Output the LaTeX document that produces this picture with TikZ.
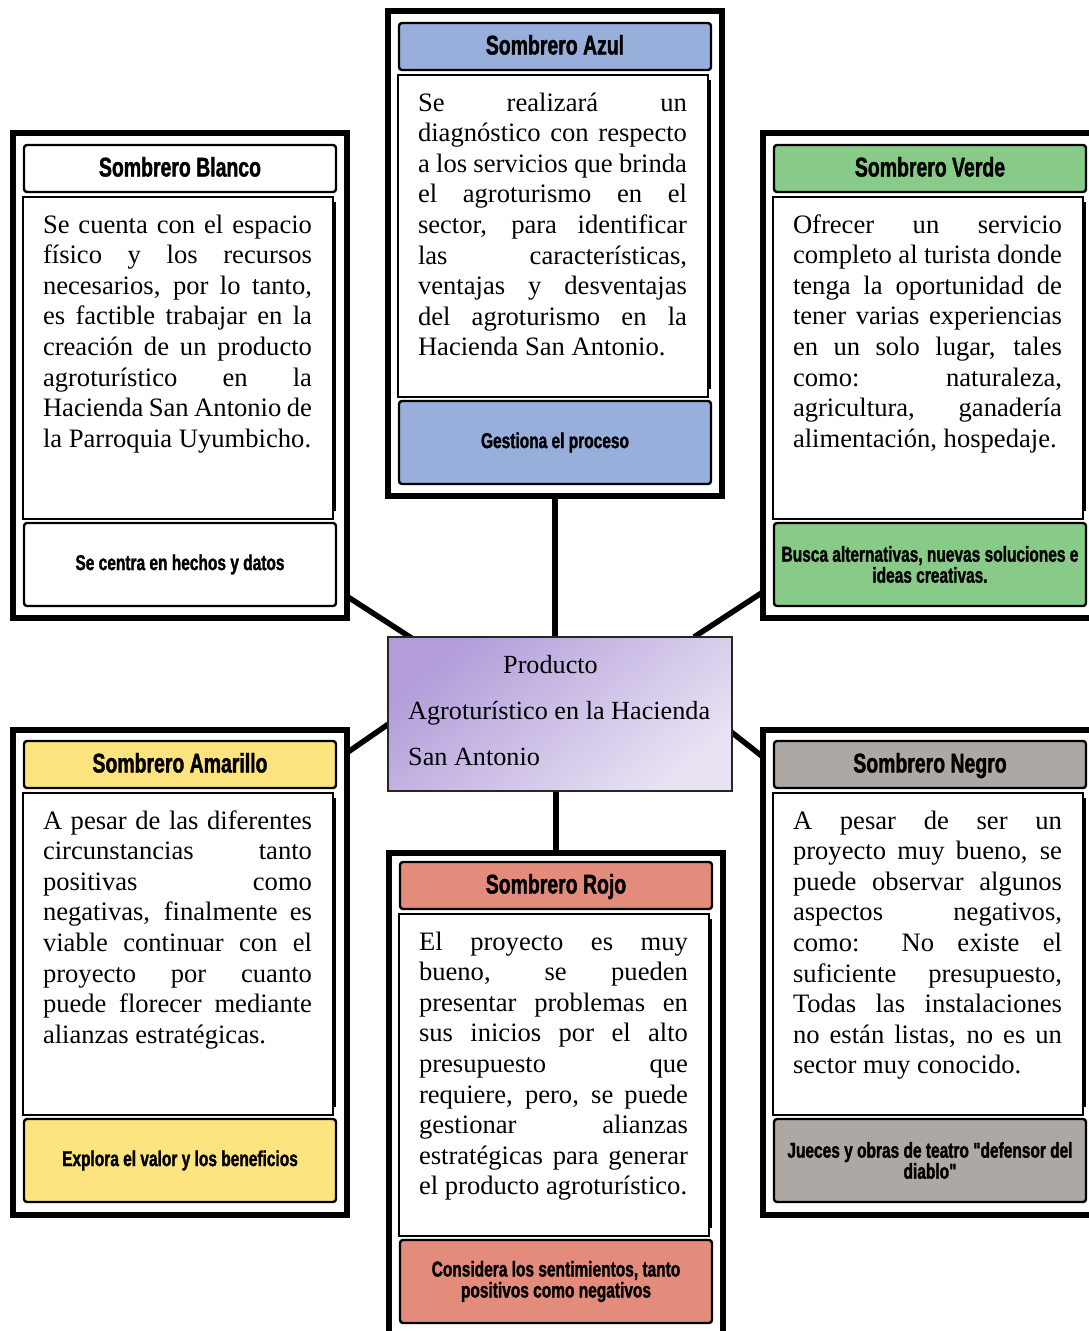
\documentclass[tikz,border=0pt]{standalone}
\usepackage{fontspec}
\setmainfont{Liberation Serif}
\newfontfamily\hatfont[FakeStretch=0.72,FakeBold=1.4]{Liberation Sans Bold}
\usetikzlibrary{calc,backgrounds}

\definecolor{hatwhite}{HTML}{FFFFFF}
\definecolor{hatblue}{HTML}{98AEDB}
\definecolor{hatgreen}{HTML}{88CA88}
\definecolor{hatyellow}{HTML}{FDE47F}
\definecolor{hatred}{HTML}{E38C7B}
\definecolor{hatblack}{HTML}{AEA8A4}
\definecolor{coredark}{HTML}{B29DD9}
\definecolor{corelight}{HTML}{E8E2F3}

% width of the text column inside a card
\newlength\cardtext
\setlength\cardtext{269pt}
% one fully justified line of a card text
\newcommand\jline[1]{\makebox[\cardtext][s]{#1}\\}
% first justified line, with a strut that fixes the top of the text block
\newcommand\fline[1]{\makebox[\cardtext][s]{\rule{0pt}{20pt}#1}\\}

% a hat card: #1 name, #2/#3 frame corner, #4 top of the inner boxes,
% #5 colour, #6 title, #7 body lines, #8 note at the foot
\newcommand\hatpanel[8]{%
  \node[frame] (#1) at (#2,#3) {};
  \node[titlebar, fill=#5] (#1-t) at (#2+11,#4+12) {};
  \node[titletext] (#1-tt) at (#1-t.center) {#6};
  \draw[line width=2.6pt] ($(#2+10,#4+64)+(312,5)$) -- ($(#2+10,#4+64)+(312,314)$);
  \node[bodybox] (#1-b) at (#2+10,#4+64) {};
  \node[bodytext] (#1-bt) at (#2+30,#4+80) {\spaceskip=0pt\xspaceskip=0pt #7};
  \node[notebar, fill=#5] (#1-n) at (#2+11,#4+390) {};
  \node[notetext] (#1-nt) at (#1-n.center) {#8};
}

\begin{document}
\begin{tikzpicture}[x=1pt,y=-1pt,
  frame/.style={draw, line width=6pt, minimum width=334pt, minimum height=485pt,
    inner sep=0pt, outer sep=0pt, anchor=north west},
  hatbar/.style={draw, line width=2.4pt, rounded corners=3pt, minimum width=312pt,
    inner sep=0pt, outer sep=0pt, anchor=north west},
  titlebar/.style={hatbar, minimum height=47pt},
  notebar/.style={hatbar, minimum height=83pt},
  bodybox/.style={draw, line width=1.2pt, fill=white, minimum width=310pt,
    minimum height=322pt, inner sep=0pt, outer sep=0pt, anchor=north west},
  bodytext/.style={anchor=north west, inner sep=0pt, outer sep=0pt, text width=269pt,
    align=left, font=\fontsize{26.6}{30.6}\selectfont},
  titletext/.style={font=\hatfont\fontsize{27}{27}\selectfont, inner sep=0pt,
    text height=16pt, text depth=0pt},
  notetext/.style={font=\hatfont\fontsize{21.5}{21}\selectfont, align=center, inner sep=0pt},
  link/.style={line width=5.5pt},
  core/.style={draw=black!85, line width=1.3pt, top color=coredark, bottom color=corelight,
    shading angle=40, minimum width=344pt, minimum height=154pt,
    inner sep=0pt, outer sep=0pt, anchor=north west},
  coretext/.style={anchor=north west, inner sep=0pt, align=left,
    font=\fontsize{26.2}{46}\selectfont}
]
\useasboundingbox (0,0) rectangle (1089,1331);
\clip (0,0) rectangle (1089,1331);
\begin{pgfonlayer}{background}
  \fill[white] (0,0) rectangle (1089,1331);
\end{pgfonlayer}

% central topic
\node[core] (core) at (388,637) {};
\node[coretext] (core-t) at (408,655) {\hspace*{95pt}Producto\\Agroturístico en la Hacienda\\San Antonio};

% the six hats
\hatpanel{blanco}{13}{133}{133}{hatwhite}{Sombrero Blanco}{%
  \fline{Se cuenta con el espacio}
  \jline{físico y los recursos}
  \jline{necesarios, por lo tanto,}
  \jline{es factible trabajar en la}
  \jline{creación de un producto}
  \jline{agroturístico en la}
  \jline{Hacienda San Antonio de}
  la Parroquia Uyumbicho.}{Se centra en hechos y datos}

\hatpanel{azul}{388}{11}{11}{hatblue}{Sombrero Azul}{%
  \fline{Se realizará un}
  \jline{diagnóstico con respecto}
  \jline{a los servicios que brinda}
  \jline{el agroturismo en el}
  \jline{sector, para identificar}
  \jline{las características,}
  \jline{ventajas y desventajas}
  \jline{del agroturismo en la}
  Hacienda San Antonio.}{Gestiona el proceso}

\hatpanel{verde}{763}{133}{133}{hatgreen}{Sombrero Verde}{%
  \fline{Ofrecer un servicio}
  \jline{completo al turista donde}
  \jline{tenga la oportunidad de}
  \jline{tener varias experiencias}
  \jline{en un solo lugar, tales}
  \jline{como: naturaleza,}
  \jline{agricultura, ganadería}
  alimentación, hospedaje.}{Busca alternativas, nuevas soluciones e\\ideas creativas.}

\hatpanel{amarillo}{13}{730}{729}{hatyellow}{Sombrero Amarillo}{%
  \fline{A pesar de las diferentes}
  \jline{circunstancias tanto}
  \jline{positivas como}
  \jline{negativas, finalmente es}
  \jline{viable continuar con el}
  \jline{proyecto por cuanto}
  \jline{puede florecer mediante}
  alianzas estratégicas.}{Explora el valor y los beneficios}

\hatpanel{rojo}{389}{853}{850}{hatred}{Sombrero Rojo}{%
  \fline{El proyecto es muy}
  \jline{bueno, se pueden}
  \jline{presentar problemas en}
  \jline{sus inicios por el alto}
  \jline{presupuesto que}
  \jline{requiere, pero, se puede}
  \jline{gestionar alianzas}
  \jline{estratégicas para generar}
  el producto agroturístico.}{Considera los sentimientos, tanto\\positivos como negativos}

\hatpanel{negro}{763}{730}{729}{hatblack}{Sombrero Negro}{%
  \fline{A pesar de ser un}
  \jline{proyecto muy bueno, se}
  \jline{puede observar algunos}
  \jline{aspectos negativos,}
  \jline{como: No existe el}
  \jline{suficiente presupuesto,}
  \jline{Todas las instalaciones}
  \jline{no están listas, no es un}
  sector muy conocido.}{Jueces y obras de teatro "defensor del\\diablo"}

% connectors from the central topic to each hat
\coordinate (blanco-j) at (348,597);
\coordinate (core-nw) at (413,639);
\coordinate (verde-j) at (763,592);
\coordinate (core-ne) at (694,637);
\coordinate (amarillo-j) at (348,752);
\coordinate (core-w) at (390,723);
\coordinate (negro-j) at (763,757);
\coordinate (core-e) at (730,731);
\begin{pgfonlayer}{background}
  \draw[link] (azul.south) -- (azul.south |- core.north);
  \draw[link] (rojo.north) -- (rojo.north |- core.south);
  \draw[link] (blanco-j) -- (core-nw);
  \draw[link] (verde-j) -- (core-ne);
  \draw[link] (amarillo-j) -- (core-w);
  \draw[link] (negro-j) -- (core-e);
\end{pgfonlayer}
\end{tikzpicture}
\end{document}
